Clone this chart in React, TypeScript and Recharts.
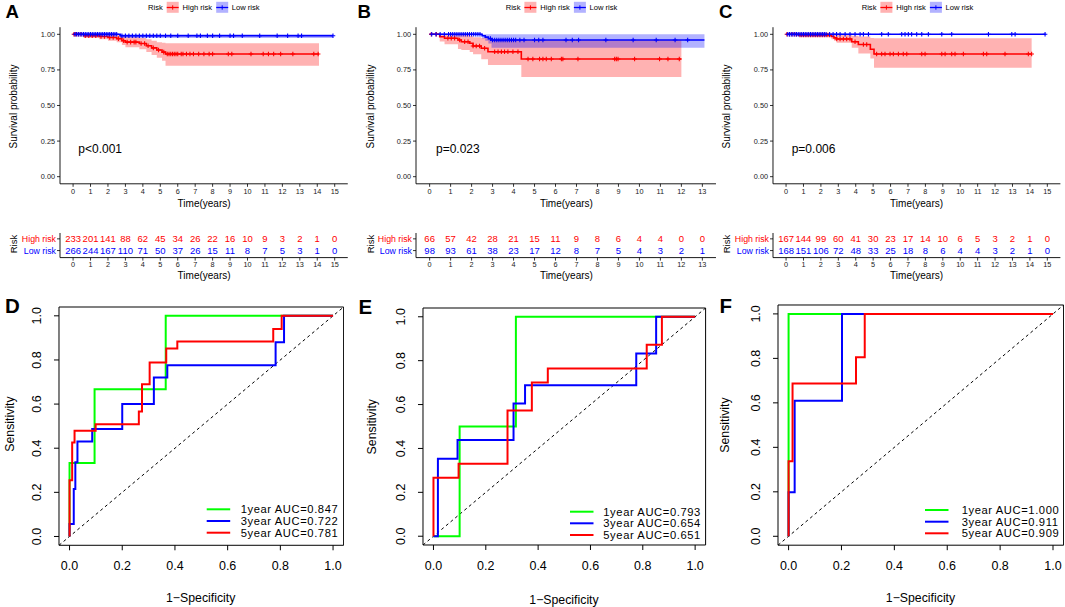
import React from 'react';
import { ComposedChart, LineChart, Line, Area, Scatter, XAxis, YAxis, ReferenceArea } from 'recharts';

const FONT = '"Liberation Sans", Arial, Helvetica, sans-serif';
const RED = '#FF0000';
const BLUE = '#0000FF';
const GREEN = '#00FF00';

// ---------------- Kaplan-Meier data ----------------
const kmTicks15 = [0, 1, 2, 3, 4, 5, 6, 7, 8, 9, 10, 11, 12, 13, 14, 15];
const kmTicks13 = [0, 1, 2, 3, 4, 5, 6, 7, 8, 9, 10, 11, 12, 13];
const survTicks = [0, 0.25, 0.5, 0.75, 1];

// Panel A
const aHighTime = [0, 0.6, 1.5, 2.0, 2.5, 2.8, 3.0, 3.8, 4.2, 4.5, 4.8, 5.1, 5.3, 14.1];
const aHighSurv = [1, 0.99, 0.985, 0.978, 0.97, 0.955, 0.945, 0.935, 0.92, 0.905, 0.89, 0.875, 0.862, 0.862];
const aHighLo = [1, 0.975, 0.965, 0.955, 0.945, 0.925, 0.91, 0.895, 0.875, 0.855, 0.835, 0.815, 0.78, 0.78];
const aHighUp = [1, 1, 1, 1, 0.995, 0.985, 0.98, 0.975, 0.965, 0.955, 0.945, 0.94, 0.938, 0.938];
const aHighCens = [0.05, 0.15, 0.3, 0.45, 0.7, 0.9, 1.1, 1.3, 1.6, 1.8, 2.1, 2.3, 2.6, 2.9, 3.1, 3.3, 3.5, 3.6, 3.9, 4.1, 4.3, 4.6, 4.9, 5.2, 5.4, 5.5, 5.6, 5.7, 5.8, 5.9, 6.0, 6.2, 6.3, 6.5, 6.7, 6.9, 7.2, 7.5, 7.8, 8.0, 8.9, 9.1, 10.2, 10.9, 11.2, 11.5, 11.9, 12.6, 13.8, 14.05];
const aLowTime = [0, 2.7, 14.9];
const aLowSurv = [1, 0.99, 0.99];
const aLowLo = [1, 0.975, 0.975];
const aLowUp = [1, 1, 1];
const aLowCens = [0.1, 0.2, 0.3, 0.4, 0.5, 0.6, 0.7, 0.8, 0.9, 1.0, 1.1, 1.2, 1.3, 1.4, 1.5, 1.6, 1.7, 1.8, 1.9, 2.0, 2.1, 2.2, 2.3, 2.4, 2.5, 2.8, 3.0, 3.2, 3.4, 3.6, 3.8, 4.0, 4.2, 4.4, 4.6, 4.8, 5.0, 5.3, 5.6, 6.0, 6.6, 7.1, 7.3, 7.7, 8.0, 8.4, 9.0, 9.2, 9.7, 10.7, 11.7, 12.3, 12.9, 13.1, 14.9];

// Panel B
const bHighTime = [0, 0.48, 0.71, 1.35, 1.51, 1.91, 2.07, 2.46, 2.78, 4.37, 12.0];
const bHighSurv = [1, 0.983, 0.972, 0.96, 0.948, 0.937, 0.918, 0.902, 0.878, 0.827, 0.827];
const bHighLo = [1, 0.95, 0.93, 0.897, 0.89, 0.875, 0.86, 0.825, 0.785, 0.7, 0.7];
const bHighUp = [1, 1, 1, 1, 0.995, 0.99, 0.98, 0.975, 0.965, 0.96, 0.96];
const bHighCens = [0.08, 0.32, 0.87, 1.03, 1.19, 1.43, 1.67, 1.83, 2.07, 2.22, 2.38, 2.62, 3.1, 3.26, 3.42, 3.57, 3.73, 3.97, 4.21, 4.69, 4.92, 5.24, 5.4, 5.56, 5.8, 6.28, 6.35, 7.07, 8.82, 8.9, 8.98, 9.77, 10.96, 11.36, 11.9];
const bLowTime = [0, 2.5, 2.65, 2.8, 2.95, 13.1];
const bLowSurv = [1, 0.99, 0.98, 0.97, 0.96, 0.96];
const bLowLo = [1, 0.97, 0.955, 0.935, 0.906, 0.906];
const bLowUp = [1, 1, 1, 1, 1, 1];
const bLowCens = [0.1, 0.3, 0.5, 0.7, 0.9, 1.0, 1.1, 1.2, 1.3, 1.4, 1.5, 1.6, 1.7, 1.8, 1.9, 2.0, 2.1, 2.2, 2.3, 2.4, 2.9, 3.0, 3.1, 3.2, 3.3, 3.4, 3.5, 3.6, 3.7, 3.8, 3.9, 4.0, 4.1, 4.3, 4.5, 5.0, 5.2, 5.4, 6.5, 6.8, 7.1, 8.4, 9.7, 10.8, 11.7, 12.3];

// Panel C
const cHighTime = [0, 0.7, 2.6, 2.75, 2.9, 3.77, 4.15, 4.84, 5.05, 14.1];
const cHighSurv = [1, 0.995, 0.985, 0.975, 0.967, 0.948, 0.928, 0.895, 0.862, 0.862];
const cHighLo = [1, 0.985, 0.965, 0.955, 0.94, 0.905, 0.865, 0.83, 0.765, 0.765];
const cHighUp = [1, 1, 1, 0.995, 0.995, 0.99, 0.985, 0.975, 0.972, 0.972];
const cHighCens = [0.05, 0.2, 0.35, 0.5, 0.6, 0.8, 0.9, 1.0, 1.1, 1.2, 1.3, 1.4, 1.5, 1.6, 1.7, 1.8, 1.9, 2.0, 2.1, 2.2, 2.3, 2.4, 2.5, 2.91, 3.1, 3.29, 3.48, 3.67, 3.96, 4.44, 4.63, 5.2, 5.49, 5.68, 5.97, 6.16, 6.45, 6.73, 6.93, 7.79, 7.98, 8.94, 9.13, 9.51, 9.7, 10.18, 11.33, 11.52, 12.57, 13.91, 14.1];
const cLowTime = [0, 14.9];
const cLowSurv = [1, 1];
const cLowLo = [1, 1];
const cLowUp = [1, 1];
const cLowCens = [0.1, 0.2, 0.3, 0.4, 0.5, 0.6, 0.7, 0.8, 0.9, 1.0, 1.1, 1.2, 1.3, 1.4, 1.5, 1.6, 1.7, 1.8, 1.9, 2.0, 2.1, 2.2, 2.3, 2.5, 2.7, 2.9, 3.1, 3.39, 3.67, 3.96, 4.25, 4.44, 4.73, 5.49, 5.87, 6.64, 6.83, 7.02, 7.21, 7.5, 7.79, 8.17, 8.94, 9.51, 11.62, 12.96, 13.15, 14.87];

// Risk tables
const riskRowLabels = ['High risk', 'Low risk'];
const riskAHigh = [233, 201, 141, 88, 62, 45, 34, 26, 22, 16, 10, 9, 3, 2, 1, 0];
const riskALow = [266, 244, 167, 110, 71, 50, 37, 26, 15, 11, 8, 7, 5, 3, 1, 0];
const riskBHigh = [66, 57, 42, 28, 21, 15, 11, 9, 8, 6, 4, 4, 0, 0];
const riskBLow = [98, 93, 61, 38, 23, 17, 12, 8, 7, 5, 4, 3, 2, 1];
const riskCHigh = [167, 144, 99, 60, 41, 30, 23, 17, 14, 10, 6, 5, 3, 2, 1, 0];
const riskCLow = [168, 151, 106, 72, 48, 33, 25, 18, 8, 6, 4, 4, 3, 2, 1, 0];

const pValues = ['p<0.001', 'p=0.023', 'p=0.006'];

// ---------------- ROC data ----------------
const rocTicks = [0, 0.2, 0.4, 0.6, 0.8, 1];
const dFpr1 = [0, 0, 0.095, 0.365, 1];
const dTpr1 = [0, 0.333, 0.667, 1, 1];
const dFpr3 = [0, 0, 0.016, 0.022, 0.03, 0.086, 0.2, 0.32, 0.371, 0.782, 0.814, 1];
const dTpr3 = [0, 0.056, 0.215, 0.336, 0.43, 0.487, 0.6, 0.72, 0.776, 0.88, 1, 1];
const dFpr5 = [0, 0, 0.01, 0.019, 0.099, 0.263, 0.275, 0.304, 0.367, 0.409, 0.773, 0.805, 1];
const dTpr5 = [0, 0.255, 0.426, 0.479, 0.509, 0.566, 0.69, 0.789, 0.852, 0.884, 0.94, 1, 1];

const eFpr1 = [0, 0.1, 0.315, 1];
const eTpr1 = [0, 0.5, 1, 1];
const eFpr3 = [0, 0.017, 0.092, 0.306, 0.35, 0.775, 0.851, 1];
const eTpr3 = [0, 0.353, 0.438, 0.605, 0.688, 0.833, 1, 1];
const eFpr5 = [0, 0, 0.096, 0.283, 0.376, 0.437, 0.815, 0.873, 1];
const eTpr5 = [0, 0.266, 0.33, 0.573, 0.7, 0.764, 0.872, 1, 1];

const fFpr1 = [0, 0, 1];
const fTpr1 = [0, 1, 1];
const fFpr3 = [0, 0, 0.023, 0.202, 1];
const fTpr3 = [0, 0.198, 0.61, 1, 1];
const fFpr5 = [0, 0, 0.015, 0.255, 0.288, 1];
const fTpr5 = [0, 0.337, 0.687, 0.805, 1, 1];

const aucD = ['1year AUC=0.847', '3year AUC=0.722', '5year AUC=0.781'];
const aucE = ['1year AUC=0.793', '3year AUC=0.654', '5year AUC=0.651'];
const aucF = ['1year AUC=1.000', '3year AUC=0.911', '5year AUC=0.909'];
const rocColors = [GREEN, BLUE, RED];

// ---------------- helpers ----------------
function stepRows(time: number[], surv: number[], lo: number[], up: number[]) {
  return time.map((t, i) => ({ t, s: surv[i], band: [lo[i], up[i]] }));
}
function censorRows(time: number[], surv: number[], cens: number[]) {
  return cens.map((c) => {
    let s = surv[0];
    time.forEach((t, i) => {
      if (t <= c) s = surv[i];
    });
    return { t: c, s };
  });
}
const plusShape = (color: string) => (props: any) => {
  const { cx, cy } = props;
  if (cx == null || cy == null) return <g />;
  const r = 2.3;
  return (
    <path d={`M${cx - r},${cy}H${cx + r}M${cx},${cy - r}V${cy + r}`} stroke={color} strokeWidth={1.1} fill="none" />
  );
};
const numShape = (color: string) => (props: any) => {
  const { cx, cy } = props;
  const n = props.payload?.n ?? props.n;
  return (
    <text x={cx} y={cy} textAnchor="middle" dominantBaseline="central" fontSize={9.5} fill={color} fontFamily={FONT}>
      {n}
    </text>
  );
};

type KMS = { time: number[]; surv: number[]; lo: number[]; up: number[]; cens: number[] };

const axisTick = { fontSize: 7.3, fill: '#1a1a1a', fontFamily: FONT };

function KMPanel({ plotLeft, xMax, plotW, ticks, high, low }: { plotLeft: number; xMax: number; plotW: number; ticks: number[]; high: KMS; low: KMS }) {
  const yW = 60;
  const top = 27.2;
  const plotH = 156.6;
  const xH = 26;
  const hRows = stepRows(high.time, high.surv, high.lo, high.up);
  const lRows = stepRows(low.time, low.surv, low.lo, low.up);
  const hC = censorRows(high.time, high.surv, high.cens);
  const lC = censorRows(low.time, low.surv, low.cens);
  return (
    <div style={{ position: 'absolute', left: plotLeft - yW, top: 0 }}>
      <ComposedChart width={yW + plotW + 4} height={top + plotH + xH} margin={{ top, right: 4, bottom: 0, left: 0 }}>
        <XAxis
          type="number"
          dataKey="t"
          domain={[-0.05 * xMax, 1.05 * xMax]}
          ticks={ticks}
          interval={0}
          allowDataOverflow
          height={xH}
          tickSize={3}
          tickMargin={2.3}
          axisLine={{ stroke: '#000', strokeWidth: 0.9 }}
          tickLine={{ stroke: '#000', strokeWidth: 0.8 }}
          tick={axisTick}
        />
        <YAxis
          type="number"
          domain={[-0.05, 1.05]}
          ticks={survTicks}
          interval={0}
          allowDataOverflow
          width={yW}
          tickSize={3}
          tickMargin={2}
          tickFormatter={(v: number) => v.toFixed(2)}
          axisLine={{ stroke: '#000', strokeWidth: 0.9 }}
          tickLine={{ stroke: '#000', strokeWidth: 0.8 }}
          tick={axisTick}
        />
        <Area data={hRows} dataKey="band" type="stepAfter" stroke="none" fill={RED} fillOpacity={0.3} isAnimationActive={false} />
        <Area data={lRows} dataKey="band" type="stepAfter" stroke="none" fill={BLUE} fillOpacity={0.3} isAnimationActive={false} />
        <Line data={hRows} dataKey="s" type="stepAfter" stroke={RED} strokeWidth={1.6} dot={false} isAnimationActive={false} />
        <Line data={lRows} dataKey="s" type="stepAfter" stroke={BLUE} strokeWidth={1.6} dot={false} isAnimationActive={false} />
        <Scatter data={hC} dataKey="s" shape={plusShape(RED)} isAnimationActive={false} />
        <Scatter data={lC} dataKey="s" shape={plusShape(BLUE)} isAnimationActive={false} />
      </ComposedChart>
    </div>
  );
}

const riskTick = (props: any) => {
  const v = props.payload?.value;
  const isHigh = v === 2;
  return (
    <text x={props.x} y={props.y} textAnchor="end" dominantBaseline="central" fontSize={8.8} fill={isHigh ? RED : BLUE} fontFamily={FONT}>
      {isHigh ? riskRowLabels[0] : riskRowLabels[1]}
    </text>
  );
};

function RiskTable({ plotLeft, xMax, plotW, ticks, high, low }: { plotLeft: number; xMax: number; plotW: number; ticks: number[]; high: number[]; low: number[] }) {
  const yW = 60;
  const top = 8;
  const plotH = 24.6;
  const xH = 22;
  const hi = ticks.map((t, i) => ({ t, y: 2, n: high[i] }));
  const lo = ticks.map((t, i) => ({ t, y: 1, n: low[i] }));
  return (
    <div style={{ position: 'absolute', left: plotLeft - yW, top: 233 - top }}>
      <ComposedChart width={yW + plotW + 4} height={top + plotH + xH} margin={{ top, right: 4, bottom: 0, left: 0 }}>
        <XAxis
          type="number"
          dataKey="t"
          domain={[-0.05 * xMax, 1.05 * xMax]}
          ticks={ticks}
          interval={0}
          allowDataOverflow
          height={xH}
          tickSize={3}
          tickMargin={1}
          axisLine={{ stroke: '#000', strokeWidth: 0.9 }}
          tickLine={{ stroke: '#000', strokeWidth: 0.8 }}
          tick={axisTick}
        />
        <YAxis
          type="number"
          dataKey="y"
          domain={[0.4, 2.5]}
          ticks={[1, 2]}
          interval={0}
          allowDataOverflow
          width={yW}
          tickSize={3}
          tickMargin={1}
          axisLine={{ stroke: '#000', strokeWidth: 0.9 }}
          tickLine={{ stroke: '#000', strokeWidth: 0.8 }}
          tick={riskTick}
        />
        <Scatter data={hi} dataKey="y" shape={numShape(RED)} isAnimationActive={false} />
        <Scatter data={lo} dataKey="y" shape={numShape(BLUE)} isAnimationActive={false} />
      </ComposedChart>
    </div>
  );
}

const rocXTick = (props: any) => (
  <text x={props.x} y={props.y} textAnchor="middle" dominantBaseline="central" fontSize={12.5} fill="#000" fontFamily={FONT}>
    {Number(props.payload?.value).toFixed(1)}
  </text>
);
const rocYTick = (props: any) => (
  <text
    x={props.x}
    y={props.y}
    textAnchor="middle"
    dominantBaseline="central"
    fontSize={12.5}
    fill="#000"
    fontFamily={FONT}
    transform={`rotate(-90, ${props.x}, ${props.y})`}
  >
    {Number(props.payload?.value).toFixed(1)}
  </text>
);

const diagRows = [
  { x: -0.04, y: -0.04 },
  { x: 1.04, y: 1.04 },
];

function ROCPanel({ boxL, boxT, boxW, boxH, curves }: { boxL: number; boxT: number; boxW: number; boxH: number; curves: { fpr: number[]; tpr: number[] }[] }) {
  const yW = 40;
  const mt = 10;
  const xH = 40;
  return (
    <div style={{ position: 'absolute', left: boxL - yW, top: boxT - mt }}>
      <LineChart width={yW + boxW + 1} height={mt + boxH + xH} margin={{ top: mt, right: 1, bottom: 0, left: 0 }}>
        <XAxis
          type="number"
          dataKey="x"
          domain={[-0.04, 1.04]}
          ticks={rocTicks}
          interval={0}
          allowDataOverflow
          axisLine={false}
          tickSize={5}
          tickMargin={16}
          tickLine={{ stroke: '#000', strokeWidth: 1 }}
          tick={rocXTick}
          height={xH}
        />
        <YAxis
          type="number"
          domain={[-0.04, 1.04]}
          ticks={rocTicks}
          interval={0}
          allowDataOverflow
          axisLine={false}
          tickSize={5}
          tickMargin={17}
          tickLine={{ stroke: '#000', strokeWidth: 1 }}
          tick={rocYTick}
          width={yW}
        />
        <ReferenceArea x1={-0.04} x2={1.04} y1={-0.04} y2={1.04} fill="none" stroke="#000" strokeWidth={1} ifOverflow="visible" />
        <Line data={diagRows} dataKey="y" type="linear" stroke="#000" strokeWidth={1} strokeDasharray="3 3" dot={false} isAnimationActive={false} />
        {curves.map((c, k) => (
          <Line
            key={k}
            data={c.fpr.map((x, i) => ({ x, y: c.tpr[i] }))}
            dataKey="y"
            type="stepAfter"
            stroke={rocColors[k]}
            strokeWidth={2}
            dot={false}
            isAnimationActive={false}
          />
        ))}
      </LineChart>
    </div>
  );
}

function KMLegend({ x0 }: { x0: number }) {
  const cy = 7.5;
  const key = (x: number, color: string) => (
    <g>
      <rect x={x} y={1.8} width={12} height={11} fill={color} fillOpacity={0.3} />
      <line x1={x} x2={x + 12} y1={cy} y2={cy} stroke={color} strokeWidth={1.3} />
      <path d={`M${x + 3.8},${cy}H${x + 8.2}M${x + 6},${cy - 2.2}V${cy + 2.2}`} stroke={color} strokeWidth={1} />
    </g>
  );
  return (
    <g fontFamily={FONT} fontSize={7.6} fill="#000">
      <text x={x0} y={cy} dominantBaseline="central">Risk</text>
      {key(x0 + 18.7, RED)}
      <text x={x0 + 34.6} y={cy} dominantBaseline="central">{riskRowLabels[0]}</text>
      {key(x0 + 68.2, BLUE)}
      <text x={x0 + 83.8} y={cy} dominantBaseline="central">{riskRowLabels[1]}</text>
    </g>
  );
}

function ROCLegend({ lx, tx, rows, labels }: { lx: number; tx: number; rows: number[]; labels: string[] }) {
  return (
    <g fontFamily={FONT} fontSize={11.2} fill="#000" letterSpacing={0.6}>
      {labels.map((l, i) => (
        <g key={i}>
          <line x1={lx} x2={lx + 23.5} y1={rows[i]} y2={rows[i]} stroke={rocColors[i]} strokeWidth={2} />
          <text x={tx} y={rows[i]} dominantBaseline="central">{l}</text>
        </g>
      ))}
    </g>
  );
}

const kmPanels = [
  { plotLeft: 60.2, xMax: 15, plotW: 287.8, ticks: kmTicks15, legend: 148, survX: 13.5, pX: 78.3 },
  { plotLeft: 416.4, xMax: 13, plotW: 300, ticks: kmTicks13, legend: 505.7, survX: 370, pX: 436 },
  { plotLeft: 772.9, xMax: 15, plotW: 287.4, ticks: kmTicks15, legend: 861.7, survX: 726.7, pX: 791.7 },
];

export default function App() {
  return (
    <div style={{ position: 'absolute', left: 0, top: 0, width: 1065, height: 607, overflow: 'hidden', background: '#fff' }}>
      <KMPanel {...kmPanels[0]} high={{ time: aHighTime, surv: aHighSurv, lo: aHighLo, up: aHighUp, cens: aHighCens }} low={{ time: aLowTime, surv: aLowSurv, lo: aLowLo, up: aLowUp, cens: aLowCens }} />
      <KMPanel {...kmPanels[1]} high={{ time: bHighTime, surv: bHighSurv, lo: bHighLo, up: bHighUp, cens: bHighCens }} low={{ time: bLowTime, surv: bLowSurv, lo: bLowLo, up: bLowUp, cens: bLowCens }} />
      <KMPanel {...kmPanels[2]} high={{ time: cHighTime, surv: cHighSurv, lo: cHighLo, up: cHighUp, cens: cHighCens }} low={{ time: cLowTime, surv: cLowSurv, lo: cLowLo, up: cLowUp, cens: cLowCens }} />

      <RiskTable plotLeft={kmPanels[0].plotLeft} xMax={15} plotW={kmPanels[0].plotW} ticks={kmTicks15} high={riskAHigh} low={riskALow} />
      <RiskTable plotLeft={kmPanels[1].plotLeft} xMax={13} plotW={kmPanels[1].plotW} ticks={kmTicks13} high={riskBHigh} low={riskBLow} />
      <RiskTable plotLeft={kmPanels[2].plotLeft} xMax={15} plotW={kmPanels[2].plotW} ticks={kmTicks15} high={riskCHigh} low={riskCLow} />

      <ROCPanel boxL={58.7} boxT={306.7} boxW={284.6} boxH={238.3} curves={[{ fpr: dFpr1, tpr: dTpr1 }, { fpr: dFpr3, tpr: dTpr3 }, { fpr: dFpr5, tpr: dTpr5 }]} />
      <ROCPanel boxL={423.3} boxT={308.4} boxW={282.6} boxH={237} curves={[{ fpr: eFpr1, tpr: eTpr1 }, { fpr: eFpr3, tpr: eTpr3 }, { fpr: eFpr5, tpr: eTpr5 }]} />
      <ROCPanel boxL={777.7} boxT={305.4} boxW={285.6} boxH={240.2} curves={[{ fpr: fFpr1, tpr: fTpr1 }, { fpr: fFpr3, tpr: fTpr3 }, { fpr: fFpr5, tpr: fTpr5 }]} />

      <svg width={1065} height={607} style={{ position: 'absolute', left: 0, top: 0, pointerEvents: 'none' }}>
        <g fontFamily={FONT} fontWeight="bold" fill="#000">
          <text x={5.5} y={18.3} fontSize={18.6}>A</text>
          <text x={357.5} y={18.3} fontSize={18.6}>B</text>
          <text x={719} y={18.3} fontSize={18.6}>C</text>
          <text x={5} y={313.3} fontSize={20.5}>D</text>
          <text x={358.5} y={314} fontSize={20.5}>E</text>
          <text x={719.5} y={312.7} fontSize={20.5}>F</text>
        </g>
        {kmPanels.map((p, i) => (
          <g key={i} fontFamily={FONT} fill="#000">
            <KMLegend x0={p.legend} />
            <text x={p.survX} y={106.5} fontSize={10} textAnchor="middle" dominantBaseline="central" transform={`rotate(-90, ${p.survX}, 106.5)`}>
              Survival probability
            </text>
            <text x={p.plotLeft + p.plotW / 2} y={203} fontSize={10} textAnchor="middle" dominantBaseline="central">Time(years)</text>
            <text x={p.pX} y={149} fontSize={12} dominantBaseline="central">{pValues[i]}</text>
            <text x={p.survX} y={244} fontSize={9.5} textAnchor="middle" dominantBaseline="central" transform={`rotate(-90, ${p.survX}, 244)`}>
              Risk
            </text>
            <text x={p.plotLeft + p.plotW / 2} y={275.7} fontSize={10} textAnchor="middle" dominantBaseline="central">Time(years)</text>
          </g>
        ))}
        <g fontFamily={FONT} fontSize={12.3} fill="#000">
          <text x={10} y={424} textAnchor="middle" dominantBaseline="central" transform="rotate(-90, 10, 424)">Sensitivity</text>
          <text x={371.7} y={426.7} textAnchor="middle" dominantBaseline="central" transform="rotate(-90, 371.7, 426.7)">Sensitivity</text>
          <text x={725} y={425} textAnchor="middle" dominantBaseline="central" transform="rotate(-90, 725, 425)">Sensitivity</text>
          <text x={200.7} y={598.3} textAnchor="middle" dominantBaseline="central">1−Specificity</text>
          <text x={564} y={600} textAnchor="middle" dominantBaseline="central">1−Specificity</text>
          <text x={920.5} y={598.3} textAnchor="middle" dominantBaseline="central">1−Specificity</text>
        </g>
        <ROCLegend lx={206.7} tx={240.7} rows={[509.3, 521, 532.7]} labels={aucD} />
        <ROCLegend lx={570} tx={603.3} rows={[511.7, 523.3, 535]} labels={aucE} />
        <ROCLegend lx={925} tx={961.7} rows={[510, 521.7, 533.3]} labels={aucF} />
      </svg>
    </div>
  );
}
